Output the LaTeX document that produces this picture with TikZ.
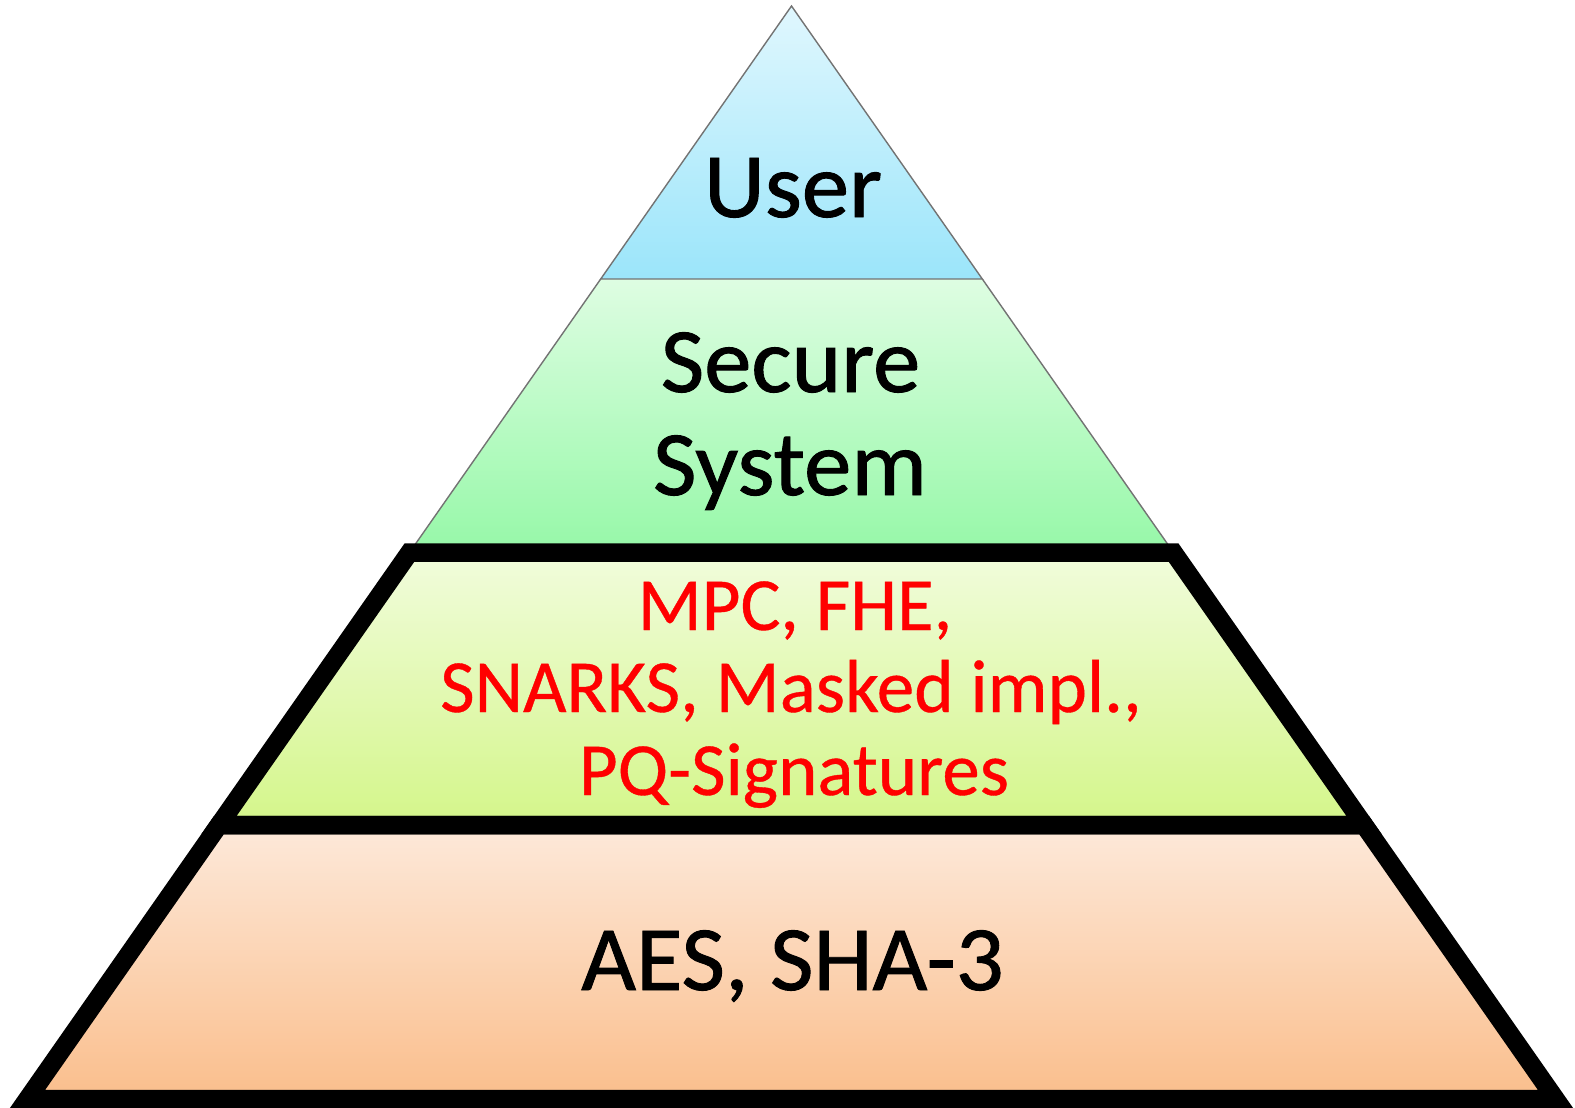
\documentclass[tikz,border=0pt]{standalone}
\usepackage{fontspec}
\setmainfont{Carlito}
\newfontfamily\widefont[FakeStretch=1.03,FakeBold=1]{Carlito}
\newfontfamily\redfont[FakeBold=0.5]{Carlito}
\definecolor{userTop}{RGB}{224,247,254}
\definecolor{userBot}{RGB}{155,229,250}
\definecolor{secTop}{RGB}{222,253,226}
\definecolor{secBot}{RGB}{150,248,168}
\definecolor{mpcTop}{RGB}{241,252,220}
\definecolor{mpcBot}{RGB}{212,246,138}
\definecolor{aesTop}{RGB}{253,233,218}
\definecolor{aesBot}{RGB}{250,190,140}
\definecolor{edgegray}{RGB}{115,115,115}
\begin{document}
\begin{tikzpicture}[x=1pt,y=-1pt,
  thinedge/.style={draw=edgegray,line width=1.4pt,line join=miter},
  band/.style={draw=black,line width=18.5pt,line join=miter},
  biglbl/.style={anchor=base,inner sep=0pt,text=black,font=\widefont\fontsize{92}{110}\selectfont},
  redlbl/.style={anchor=base,inner sep=0pt,text=red,font=\redfont\fontsize{75}{90}\selectfont}]
\useasboundingbox (0,0) rectangle (1575,1108);
% corners of the pyramid levels
\coordinate (apex) at (791.5,6);
\coordinate (u1) at (600.7,279);   \coordinate (u2) at (982.3,279);
\coordinate (s1) at (409.5,552.5); \coordinate (s2) at (1173.5,552.5);
\coordinate (m1) at (219,825);     \coordinate (m2) at (1364,825);
\coordinate (b1) at (27.5,1099);   \coordinate (b2) at (1555.5,1099);
% gradient fills
\shade[top color=userTop,bottom color=userBot] (apex)--(u2)--(u1)--cycle;
\shade[top color=secTop,bottom color=secBot] (u1)--(u2)--(s2)--(s1)--cycle;
\shade[top color=mpcTop,bottom color=mpcBot] (s1)--(s2)--(m2)--(m1)--cycle;
\shade[top color=aesTop,bottom color=aesBot] (m1)--(m2)--(b2)--(b1)--cycle;
% outlines
\draw[thinedge] (apex)--(u2)--(u1)--cycle;
\draw[thinedge] (u2)--(s2);
\draw[thinedge] (u1)--(s1);
\draw[band] (s1)--(s2)--(m2)--(m1)--cycle;
\draw[band] (m1)--(m2)--(b2)--(b1)--cycle;
% labels
\node[biglbl] (user) at (793,217) {User};
\node[biglbl] (secure) at (790.5,392) {Secure};
\node[biglbl] (system) at (790,495) {System};
\node[redlbl] (mpc) at (795,630) {MPC, FHE,};
\node[redlbl] (snarks) at (791,712) {SNARKS, Masked impl.,};
\node[redlbl] (pq) at (794,795) {PQ-Signatures};
\node[biglbl] (aes) at (792.5,990) {AES, SHA-3};
\end{tikzpicture}
\end{document}
